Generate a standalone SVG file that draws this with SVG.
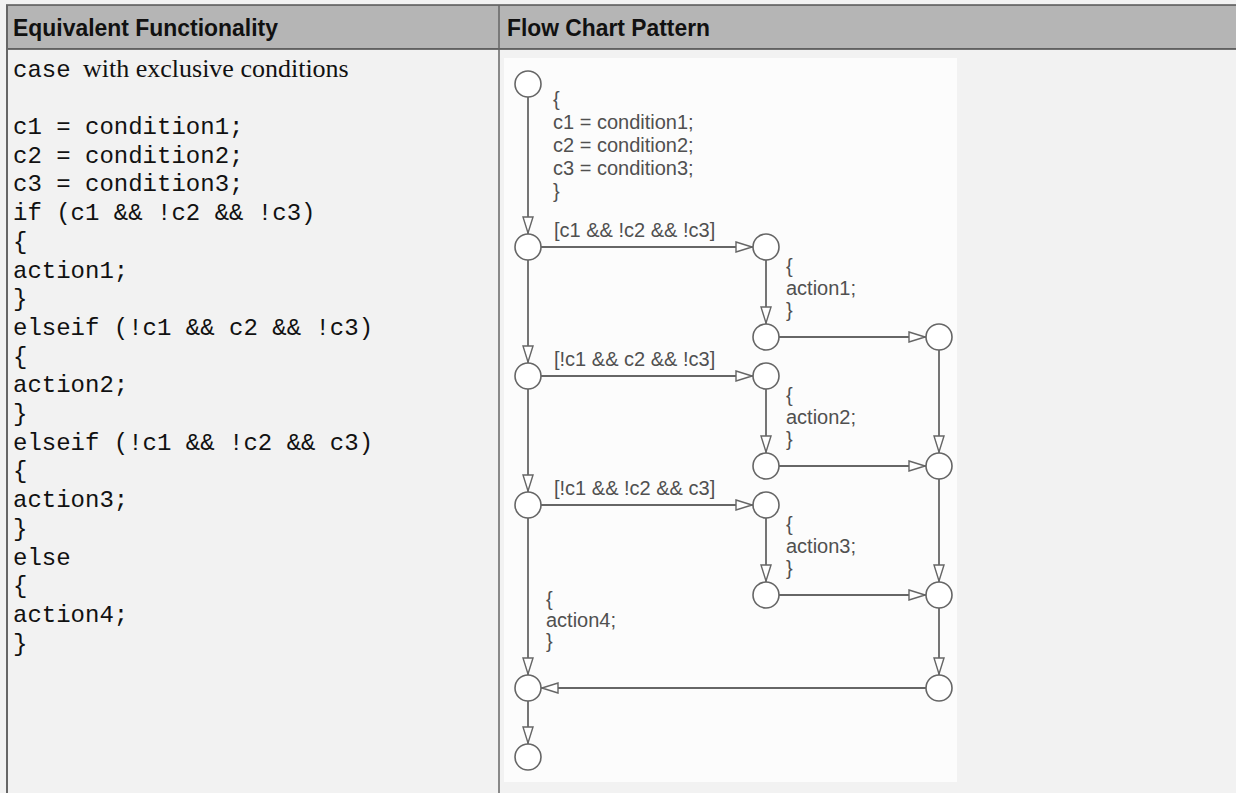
<svg xmlns="http://www.w3.org/2000/svg" width="1236" height="793" viewBox="0 0 1236 793">
<style>
.hdr{font-family:"Liberation Sans",Arial,sans-serif;font-weight:bold;font-size:24px;fill:#111}
.code{font-family:"Liberation Mono","Courier New",monospace;font-size:24px;fill:#111}
.serif{font-family:"Liberation Serif","Times New Roman",serif;font-size:26px;fill:#111}
.fc{font-family:"Liberation Sans",Arial,sans-serif;font-size:20px;fill:#505050}
.j{fill:#fff;stroke:#666;stroke-width:1.6}
.e{stroke:#666;stroke-width:1.8;fill:none;marker-end:url(#ah)}
</style>
<defs>
<marker id="ah" viewBox="0 0 18 12" refX="18" refY="6" markerWidth="18" markerHeight="12" markerUnits="userSpaceOnUse" orient="auto">
<path d="M1,1 L17,6 L1,11 Z" fill="#fff" stroke="#666" stroke-width="1.4"/>
</marker>
</defs>
<g id="table">
<rect x="0" y="0" width="1236" height="793" fill="#f2f2f2"/>
<rect x="6" y="5" width="1230" height="44" fill="#b5b5b5"/>
<line x1="6" y1="5" x2="1236" y2="5" stroke="#555" stroke-width="1.5"/>
<line x1="6" y1="49" x2="1236" y2="49" stroke="#444" stroke-width="1.5"/>
<line x1="7" y1="5" x2="7" y2="793" stroke="#666" stroke-width="2"/>
<line x1="499" y1="5" x2="499" y2="793" stroke="#666" stroke-width="1.5"/>
<text class="hdr" x="13" y="36" textLength="265" lengthAdjust="spacingAndGlyphs">Equivalent Functionality</text>
<text class="hdr" x="507" y="36" textLength="203" lengthAdjust="spacingAndGlyphs">Flow Chart Pattern</text>
</g>
<g id="code">
<text class="code" x="13" y="77">case</text>
<text class="serif" x="83" y="77">with exclusive conditions</text>
<text class="code" x="13" y="134">c1 = condition1;</text>
<text class="code" x="13" y="162.7">c2 = condition2;</text>
<text class="code" x="13" y="191.4">c3 = condition3;</text>
<text class="code" x="13" y="220.1">if (c1 &amp;&amp; !c2 &amp;&amp; !c3)</text>
<text class="code" x="13" y="248.8">{</text>
<text class="code" x="13" y="277.5">action1;</text>
<text class="code" x="13" y="306.2">}</text>
<text class="code" x="13" y="334.9">elseif (!c1 &amp;&amp; c2 &amp;&amp; !c3)</text>
<text class="code" x="13" y="363.6">{</text>
<text class="code" x="13" y="392.3">action2;</text>
<text class="code" x="13" y="421">}</text>
<text class="code" x="13" y="449.7">elseif (!c1 &amp;&amp; !c2 &amp;&amp; c3)</text>
<text class="code" x="13" y="478.4">{</text>
<text class="code" x="13" y="507.1">action3;</text>
<text class="code" x="13" y="535.8">}</text>
<text class="code" x="13" y="564.5">else</text>
<text class="code" x="13" y="593.2">{</text>
<text class="code" x="13" y="621.9">action4;</text>
<text class="code" x="13" y="650.6">}</text>
</g>
<rect id="chart-bg" x="504" y="58" width="453" height="724" fill="#fcfcfc"/>
<g id="connectors">
<path class="e" d="M528,97 L528,234"/>
<path class="e" d="M528,260 L528,363"/>
<path class="e" d="M528,389 L528,492"/>
<path class="e" d="M528,518 L528,675"/>
<path class="e" d="M528,701 L528,744"/>
<path class="e" d="M541,247 L753,247"/>
<path class="e" d="M541,376 L753,376"/>
<path class="e" d="M541,505 L753,505"/>
<path class="e" d="M766,260 L766,324"/>
<path class="e" d="M766,389 L766,453"/>
<path class="e" d="M766,518 L766,582"/>
<path class="e" d="M779,337 L926,337"/>
<path class="e" d="M779,466 L926,466"/>
<path class="e" d="M779,595 L926,595"/>
<path class="e" d="M939,350 L939,453"/>
<path class="e" d="M939,479 L939,582"/>
<path class="e" d="M939,608 L939,675"/>
<path class="e" d="M926,688 L541,688"/>
</g>
<g id="labels">
<text class="fc" x="554" y="237">[c1 &amp;&amp; !c2 &amp;&amp; !c3]</text>
<text class="fc" x="554" y="366">[!c1 &amp;&amp; c2 &amp;&amp; !c3]</text>
<text class="fc" x="554" y="495">[!c1 &amp;&amp; !c2 &amp;&amp; c3]</text>
</g>
<g id="n-start"><circle class="j" cx="528" cy="84" r="13"/>
<text class="fc"><tspan x="553" y="106">{</tspan><tspan x="553" y="129">c1 = condition1;</tspan><tspan x="553" y="152">c2 = condition2;</tspan><tspan x="553" y="175">c3 = condition3;</tspan><tspan x="553" y="198">}</tspan></text></g>
<g id="n-row1"><circle class="j" cx="528" cy="247" r="13"/></g>
<g id="n-row2"><circle class="j" cx="528" cy="376" r="13"/></g>
<g id="n-row3"><circle class="j" cx="528" cy="505" r="13"/>
<text class="fc"><tspan x="546" y="606">{</tspan><tspan x="546" y="627">action4;</tspan><tspan x="546" y="648">}</tspan></text></g>
<g id="n-merge"><circle class="j" cx="528" cy="688" r="13"/></g>
<g id="n-end"><circle class="j" cx="528" cy="757" r="13"/></g>
<g id="n-act1"><circle class="j" cx="766" cy="247" r="13"/>
<text class="fc"><tspan x="786" y="273">{</tspan><tspan x="786" y="295">action1;</tspan><tspan x="786" y="317">}</tspan></text></g>
<g id="n-act2"><circle class="j" cx="766" cy="376" r="13"/>
<text class="fc"><tspan x="786" y="402">{</tspan><tspan x="786" y="424">action2;</tspan><tspan x="786" y="446">}</tspan></text></g>
<g id="n-act3"><circle class="j" cx="766" cy="505" r="13"/>
<text class="fc"><tspan x="786" y="531">{</tspan><tspan x="786" y="553">action3;</tspan><tspan x="786" y="575">}</tspan></text></g>
<g id="n-done1"><circle class="j" cx="766" cy="337" r="13"/></g>
<g id="n-done2"><circle class="j" cx="766" cy="466" r="13"/></g>
<g id="n-done3"><circle class="j" cx="766" cy="595" r="13"/></g>
<g id="n-join1"><circle class="j" cx="939" cy="337" r="13"/></g>
<g id="n-join2"><circle class="j" cx="939" cy="466" r="13"/></g>
<g id="n-join3"><circle class="j" cx="939" cy="595" r="13"/></g>
<g id="n-join4"><circle class="j" cx="939" cy="688" r="13"/></g>
</svg>
